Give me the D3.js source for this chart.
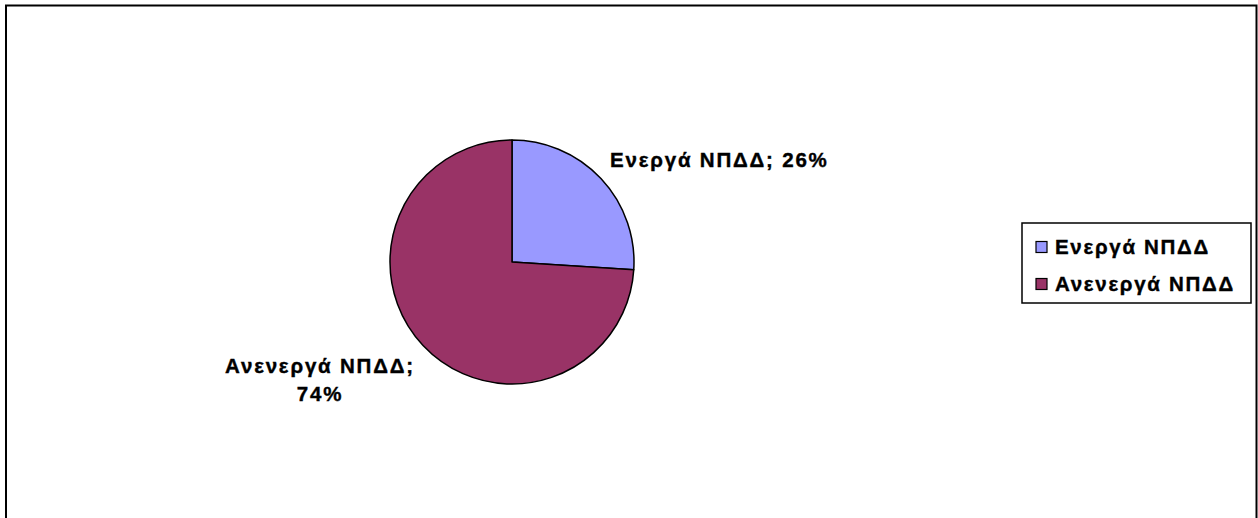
<!DOCTYPE html>
<html><head><meta charset="utf-8">
<script src="https://cdn.jsdelivr.net/npm/d3@7"></script>
<style>body{margin:0;background:#fff;}svg{display:block;font-family:Arial,"Liberation Sans",sans-serif;}</style>
</head><body>
<svg id="c" width="1258" height="518"></svg>
<script>
const categories = ["Ενεργά ΝΠΔΔ", "Ανενεργά ΝΠΔΔ"];
const values = [26, 74];
const colors = ["#9999FF", "#993366"];
const labelLines = [["Ενεργά ΝΠΔΔ; 26%"], ["Ανενεργά ΝΠΔΔ;", "74%"]];

const svg = d3.select("#c");
svg.append("rect").attr("x",6).attr("y",5.5).attr("width",1250.5).attr("height",520)
  .attr("fill","#fff").attr("stroke","#000").attr("stroke-width",2);

const cx = 512, cy = 262, r = 122;
const data = categories.map((c,i)=>({c, v:values[i], col:colors[i], lines:labelLines[i]}));
const pie = d3.pie().sort(null).value(d=>d.v);
const arcs = pie(data);
const arc = d3.arc().innerRadius(0).outerRadius(r);
const g = svg.append("g").attr("transform",`translate(${cx},${cy})`);
g.selectAll("path").data(arcs).join("path").attr("d",arc)
  .attr("fill",d=>d.data.col).attr("stroke","#000").attr("stroke-width",1.5).attr("stroke-linejoin","round");

const labelPos = [{x:610, y:167, anchor:"start"}, {x:320, y:373, anchor:"middle"}];
arcs.forEach((a,i)=>{
  const p = labelPos[i];
  const t = svg.append("text").attr("x",p.x).attr("y",p.y).attr("text-anchor",p.anchor)
    .attr("font-size",20.5).attr("font-weight","bold").attr("letter-spacing",1.8)
    .attr("fill","#000").attr("stroke","#000").attr("stroke-width",0.4);
  a.data.lines.forEach((ln,j)=>{
    t.append("tspan").attr("x",p.x).attr("dy", j===0?0:28).text(ln);
  });
});

const lg = svg.append("g");
lg.append("rect").attr("x",1022).attr("y",223).attr("width",229).attr("height",80)
  .attr("fill","#fff").attr("stroke","#000").attr("stroke-width",1.5);
const rows = lg.selectAll("g.row").data(data).join("g").attr("class","row")
  .attr("transform",(d,i)=>`translate(1036,${247+i*37})`);
rows.append("rect").attr("x",0).attr("y",-5.5).attr("width",11).attr("height",11)
  .attr("fill",d=>d.col).attr("stroke","#000").attr("stroke-width",1.2);
rows.append("text").attr("x",19).attr("y",7).attr("font-size",20.5).attr("font-weight","bold")
  .attr("letter-spacing",1.7).attr("stroke","#000").attr("stroke-width",0.4).text(d=>d.c);
</script>
</body></html>
